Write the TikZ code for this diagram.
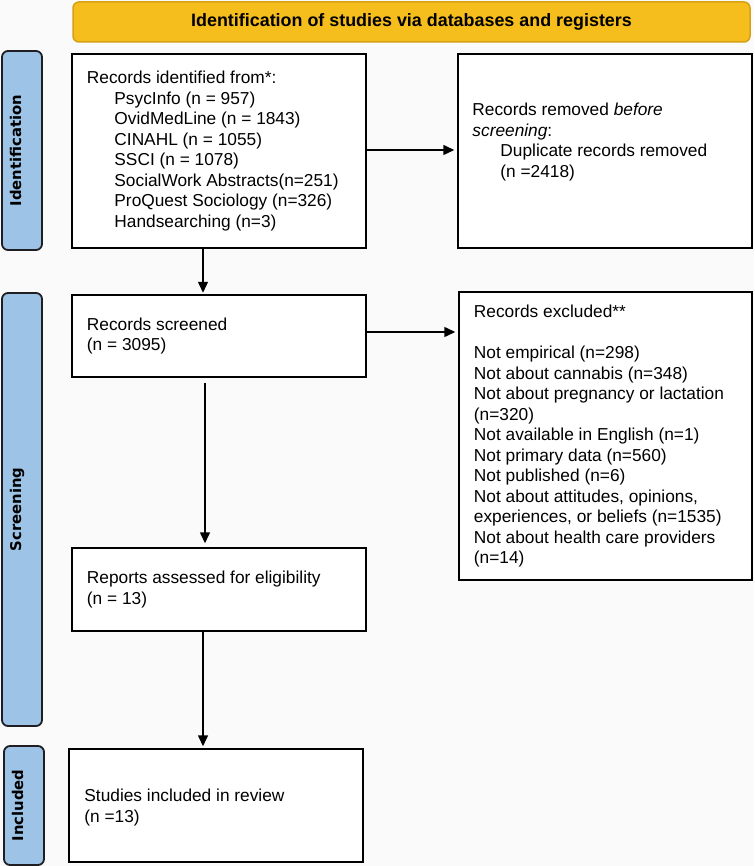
\documentclass[tikz,border=0pt]{standalone}
\usepackage{fontspec}
\setmainfont{Liberation Sans}
\newfontfamily\barfont{DejaVu Sans}
\usetikzlibrary{arrows.meta,calc}
\definecolor{hdrfill}{RGB}{246,190,28}
\definecolor{hdrdraw}{RGB}{214,160,20}
\definecolor{barfill}{RGB}{157,195,230}
\definecolor{bardraw}{RGB}{30,30,35}
\begin{document}
\begin{tikzpicture}[x=1pt,y=-1pt,
  box/.style={draw=black, line width=1.5pt, fill=white, rectangle, inner sep=0pt},
  txt/.style={anchor=west, align=left, inner sep=0pt, font=\fontsize{17.3}{20.5}\selectfont},
  sidebar/.style={draw=bardraw, line width=1.8pt, fill=barfill, rounded corners=6pt, inner sep=0pt},
  sidelabel/.style={rotate=90, anchor=base, font=\barfont\bfseries\fontsize{14.8}{17}\selectfont, inner sep=0pt},
  arr/.style={line width=1.5pt, -{Triangle[length=11pt,width=10pt]}}]
\useasboundingbox (0,0) rectangle (754,866);
\fill[white!98!black] (0,0) rectangle (754,866);

% header
\node[draw=hdrdraw, line width=1.5pt, fill=hdrfill, rounded corners=6pt, minimum width=677pt, minimum height=40pt, inner sep=0pt,
      font=\bfseries\fontsize{17.9}{20}\selectfont] (hdr) at (411.5,22) {Identification of studies via databases and registers};

% side bars
\node[sidebar, minimum width=40pt, minimum height=199pt] (idbar) at (22,150.5) {};
\node[sidelabel] (idlab) at ([xshift=-1pt]idbar.center) {Identification};
\node[sidebar, minimum width=40pt, minimum height=433pt] (scbar) at (22,509.5) {};
\node[sidelabel] (sclab) at ([xshift=-1pt]scbar.center) {Screening};
\node[sidebar, minimum width=40pt, minimum height=119pt] (inbar) at (24,805.5) {};
\node[sidelabel] (inlab) at ([xshift=-1pt]inbar.center) {Included};

% boxes
\node[box, minimum width=294pt, minimum height=194pt] (b1) at (219,151) {};
\node[box, minimum width=294pt, minimum height=194pt] (b2) at (605,151) {};
\node[box, minimum width=294pt, minimum height=82pt] (b3) at (219,336) {};
\node[box, minimum width=293pt, minimum height=288pt] (b4) at (605.5,436) {};
\node[box, minimum width=294pt, minimum height=83pt] (b5) at (219,589.5) {};
\node[box, minimum width=294pt, minimum height=113pt] (b6) at (216,805.5) {};

% texts
\node[txt] (t1) at ([xshift=15.5pt]b1.west) {Records identified from*:\\
\hspace*{27.5pt}PsycInfo (n = 957)\\
\hspace*{27.5pt}OvidMedLine (n = 1843)\\
\hspace*{27.5pt}CINAHL (n = 1055)\\
\hspace*{27.5pt}SSCI (n = 1078)\\
\hspace*{27.5pt}SocialWork Abstracts(n=251)\\
\hspace*{27.5pt}ProQuest Sociology (n=326)\\
\hspace*{27.5pt}Handsearching (n=3)};
\node[txt] (t2) at ([xshift=15pt,yshift=9pt]b2.west) {Records removed \textit{before}\\
\textit{screening}:\\
\hspace*{28pt}Duplicate records removed\\
\hspace*{28pt}(n =2418)};
\node[txt] (t3) at ([xshift=15.5pt]b3.west) {Records screened\\(n = 3095)};
\node[txt] (t4) at ([xshift=15.5pt,yshift=-0.5pt]b4.west) {Records excluded**\\
\mbox{}\\
Not empirical (n=298)\\
Not about cannabis (n=348)\\
Not about pregnancy or lactation\\
(n=320)\\
Not available in English (n=1)\\
Not primary data (n=560)\\
Not published (n=6)\\
Not about attitudes, opinions,\\
experiences, or beliefs (n=1535)\\
Not about health care providers\\
(n=14)};
\node[txt] (t5) at ([xshift=15.5pt]b5.west) {Reports assessed for eligibility\\(n = 13)};
\node[txt] (t6) at ([xshift=16pt,yshift=-2pt]b6.west) {Studies included in review\\(n =13)};

% arrows
\draw[arr, shorten >=3pt] ([yshift=1pt]b1.east) -- ([yshift=1pt]b1.east -| b2.west);
\draw[arr, shorten >=3pt] ([yshift=4pt]b3.east) -- ([yshift=4pt]b3.east -| b4.west);
\draw[arr, shorten >=1.5pt] ([xshift=-16pt]b1.south) -- ([xshift=-16pt]b3.north);
\draw[arr, shorten >=4pt] ([xshift=-14pt,yshift=-5pt]b3.south) -- ([xshift=-14pt]b5.north);
\draw[arr, shorten >=2pt] ([xshift=-16pt]b5.south) -- ([xshift=-13pt]b6.north);
\end{tikzpicture}
\end{document}
